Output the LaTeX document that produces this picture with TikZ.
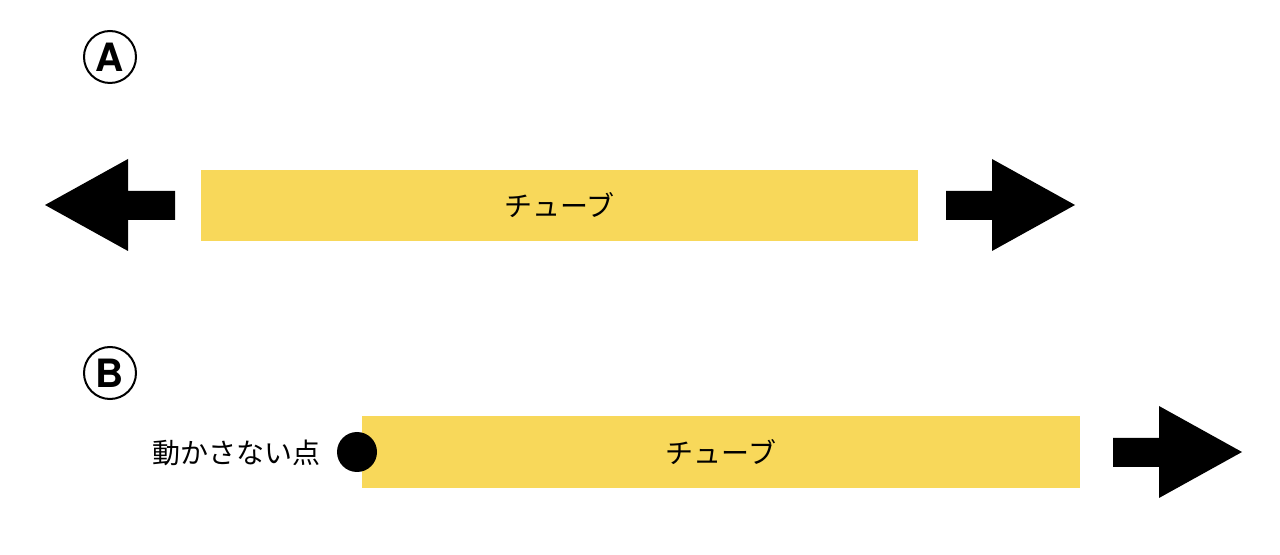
\documentclass[tikz,border=0pt]{standalone}
\usepackage{fontspec}
\newfontfamily\jp{Noto Sans CJK JP}
\newfontfamily\heros{TeX Gyre Heros}
\definecolor{tubecol}{HTML}{F8D85A}
\tikzset{
  lbl/.style={font=\jp\fontsize{14}{16}\selectfont, inner sep=0pt},
  markcirc/.style={font=\heros\bfseries\fontsize{19.5}{22}\selectfont, inner sep=0pt},
}
\begin{document}
\begin{tikzpicture}[x=0.5pt,y=-0.5pt]
\useasboundingbox (0,0) rectangle (1280,555);
% A
\draw[line width=1pt] (110,57) circle (13pt);
\node[markcirc] (mA) at (110,57.5) {A};
\fill (45,205) -- (128,159) -- (128,191) -- (175,191) -- (175,220) -- (128,220) -- (128,251) -- cycle;
\fill[tubecol] (201,170) rectangle (918,241);
\node[lbl] (t1) at (559.5,205.5) {チューブ};
\fill (946,191) -- (992,191) -- (992,159) -- (1075,205) -- (992,251) -- (992,220) -- (946,220) -- cycle;
% B
\draw[line width=1pt] (110,373) circle (13pt);
\node[markcirc] (mB) at (110,373.5) {B};
\fill[tubecol] (362,416) rectangle (1080,488);
\node[lbl] (t2) at (721,452.5) {チューブ};
\fill (357,452) circle (10pt);
\node[lbl] (p1) at (236.5,453) {動かさない点};
\fill (1113,438) -- (1159,438) -- (1159,406) -- (1242,452) -- (1159,498) -- (1159,467) -- (1113,467) -- cycle;
\end{tikzpicture}
\end{document}
